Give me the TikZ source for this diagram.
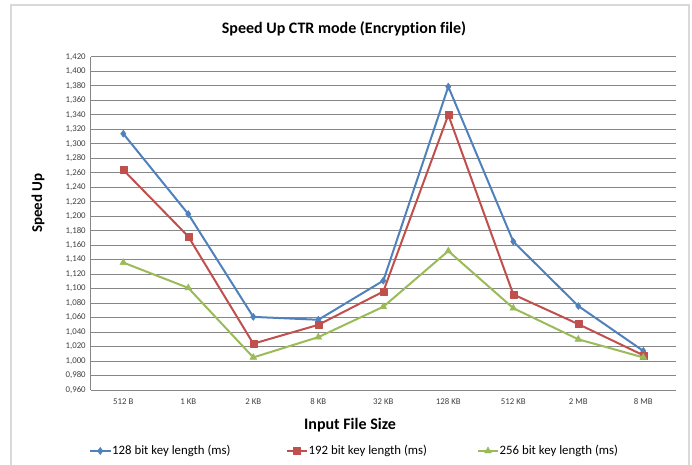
\documentclass[tikz,border=0pt]{standalone}
\usepackage{fontspec}
\setmainfont[Ligatures=NoCommon]{Carlito}
\usetikzlibrary{plotmarks,calc}
\definecolor{frameline}{RGB}{217,217,217}
\definecolor{gridgrey}{RGB}{134,134,134}
\definecolor{ticktext}{RGB}{64,64,64}
\definecolor{serieblue}{RGB}{79,129,189}
\definecolor{seriered}{RGB}{192,80,77}
\definecolor{seriegreen}{RGB}{155,187,89}
\tikzset{
  chartframe/.style={draw=frameline,line width=2pt},
  gridline/.style={draw=gridgrey,line width=1pt},
  ticklabel/.style={font=\fontsize{8.8}{10}\selectfont,text=ticktext,inner sep=1pt},
  axistitle/.style={font=\fontsize{16}{18}\selectfont\bfseries,inner sep=0pt},
  legendtext/.style={font=\fontsize{12.8}{15}\selectfont,anchor=west,inner sep=1.5pt},
  bluecurve/.style={draw=serieblue,line width=2pt,line join=round,
    mark=diamond*,mark size=3.6pt,mark options={fill=serieblue,draw=serieblue,line width=0.4pt}},
  redcurve/.style={draw=seriered,line width=2pt,line join=round,
    mark=square*,mark size=3.5pt,mark options={fill=seriered,draw=seriered,line width=0.4pt}},
  greencurve/.style={draw=seriegreen,line width=2pt,line join=round,
    mark=triangle*,mark size=4pt,mark options={fill=seriegreen,draw=seriegreen,line width=0.4pt}},
}

\begin{document}
\begin{tikzpicture}[x=1pt,y=-1pt]
  \useasboundingbox (0,0) rectangle (692,464);
  % chart area
  \draw[chartframe] (11,470) -- (11,5) -- (689,5) -- (689,470);
  \node[axistitle] (title) at (344,29) {Speed Up CTR mode (Encryption file)};

  % plot area: categories 1..9, values 0.96..1.42
  \begin{scope}[shift={(58.3,1085.04)},x=65pt,y=724pt]
    \foreach \k in {0,...,23} {
      \pgfmathsetmacro\v{0.96+0.02*\k}
      \draw[gridline] (0.5,\v) -- (9.5,\v);
      \node[ticklabel,anchor=east] (ytick\k) at (0.44,\v)
        {\pgfmathprintnumber[fixed,fixed zerofill,precision=3,use comma,assume math mode=true]{\v}};
    }
    \draw[gridline] (0.5,0.96) -- (0.5,1.42);

    \draw[bluecurve] plot coordinates {(1,1.314) (2,1.203) (3,1.061) (4,1.057) (5,1.111)
      (6,1.379) (7,1.165) (8,1.076) (9,1.014)};
    \draw[redcurve] plot coordinates {(1,1.264) (2,1.172) (3,1.024) (4,1.050) (5,1.096)
      (6,1.340) (7,1.092) (8,1.051) (9,1.008)};
    \draw[greencurve] plot coordinates {(1,1.136) (2,1.101) (3,1.005) (4,1.033) (5,1.075)
      (6,1.152) (7,1.073) (8,1.030) (9,1.005)};
  \end{scope}

  \foreach \lab [count=\i] in {512 B,1 KB,2 KB,8 KB,32 KB,128 KB,512 KB,2 MB,8 MB}
    \node[ticklabel] (xtick\i) at ({58.3+65*\i},402) {\lab};

  \node[axistitle,font=\fontsize{15}{17}\selectfont\bfseries,rotate=90] (ytitle) at (38,203) {Speed Up};
  \node[axistitle] (xtitle) at (350,425) {Input File Size};

  % legend
  \node[legendtext] (leg128) at (110.5,451) {128 bit key length (ms)};
  \node[legendtext] (leg192) at (307,451) {192 bit key length (ms)};
  \node[legendtext] (leg256) at (498,451) {256 bit key length (ms)};
  \coordinate (key128) at (90,451);
  \coordinate (key192) at (287,451);
  \coordinate (key256) at (478,451);
  \draw[bluecurve] (key128) -- (leg128.west);
  \draw[redcurve] (key192) -- (leg192.west);
  \draw[greencurve] (key256) -- (leg256.west);
  \draw[bluecurve] plot coordinates {($(key128)!0.5!(leg128.west)$)};
  \draw[redcurve] plot coordinates {($(key192)!0.5!(leg192.west)$)};
  \draw[greencurve] plot coordinates {($(key256)!0.5!(leg256.west)$)};
\end{tikzpicture}
\end{document}
